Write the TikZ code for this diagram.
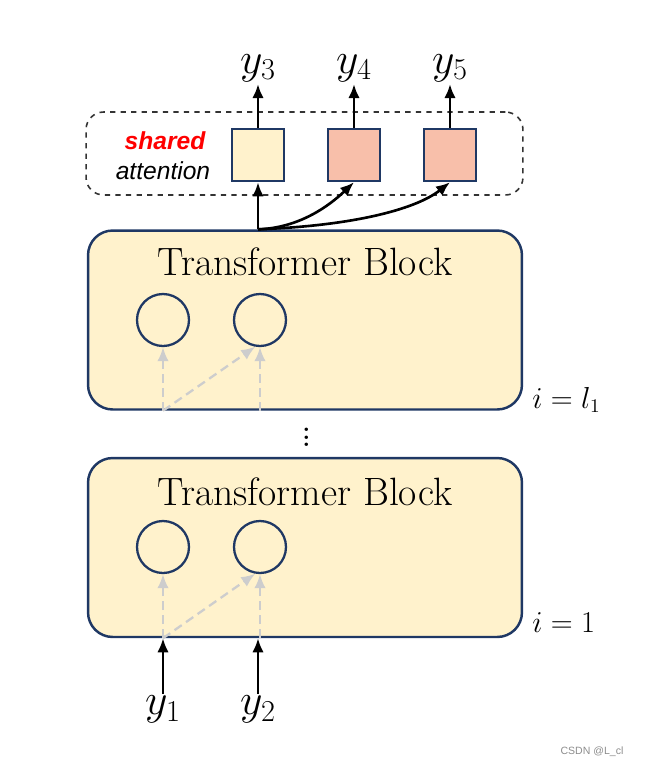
\documentclass[tikz,border=0pt]{standalone}
\usepackage{fontspec}
\usetikzlibrary{arrows.meta,positioning,calc}
\newfontfamily\notefont{Liberation Sans}
\definecolor{BlockCream}{RGB}{255,242,204}
\definecolor{BlockNavy}{RGB}{31,56,100}
\definecolor{HeadSalmon}{RGB}{248,191,170}
\definecolor{FlowGray}{RGB}{205,205,205}
\definecolor{SharedRed}{RGB}{255,0,0}

\begin{document}
\begin{tikzpicture}[x=0.02cm,y=-0.02cm,
    block/.style={draw=BlockNavy,line width=1.4pt,fill=BlockCream,rounded corners=14pt,minimum width=8.68cm,minimum height=3.58cm},
    title/.style={font=\fontsize{22.5}{26}\selectfont,inner sep=0pt},
    token/.style={circle,draw=BlockNavy,line width=1.3pt,minimum size=1.04cm,inner sep=0pt},
    head/.style={draw=BlockNavy,line width=1.4pt,minimum size=1.04cm,inner sep=0pt},
    var/.style={font=\fontsize{27}{29}\selectfont,inner sep=1pt},
    layer/.style={font=\fontsize{16}{18}\selectfont,anchor=west,inner sep=0pt},
    flow/.style={-{Latex[length=8pt,width=6.5pt]},line width=1.5pt},
    ghost/.style={-{Latex[length=8pt,width=6.5pt]},FlowGray,dashed,dash pattern=on 5pt off 3pt,line width=1.3pt}
  ]
    \useasboundingbox (0,0) rectangle (648,769);

    % shared attention heads
    \node[draw=black!80,dashed,line width=0.9pt,rounded corners=10pt,minimum width=8.74cm,minimum height=1.66cm] (shared) at (304.5,153.5) {};
    \node[head,fill=BlockCream] (h3) at (258,155) {};
    \node[head,fill=HeadSalmon] (h4) at (354,155) {};
    \node[head,fill=HeadSalmon] (h5) at (450,155) {};
    \node[font=\notefont\bfseries\itshape\fontsize{14}{15}\selectfont,text=SharedRed] (sharedlbl) at (165,141) {shared};
    \node[font=\notefont\itshape\fontsize{14}{15}\selectfont] (attnlbl) at (163,171) {attention};

    \node[var,anchor=south] (y3) at (258,84) {$y_3$};
    \node[var,anchor=south] (y4) at (354,84) {$y_4$};
    \node[var,anchor=south] (y5) at (450,84) {$y_5$};

    % layer l_1
    \node[block] (upper) at (305,320) {};
    \node[title] (uppertitle) at (305,262) {Transformer Block};
    \node[token] (u1) at (163,320) {};
    \node[token] (u2) at (260,320) {};
    \node[layer] (upperidx) at (532,400) {$i = l_1$};

    \node[font=\fontsize{24}{26}\selectfont,inner sep=0pt] (dots) at (307,432) {$\vdots$};

    % layer 1
    \node[block] (lower) at (305,547.5) {};
    \node[title] (lowertitle) at (305,492) {Transformer Block};
    \node[token] (l1) at (163,547) {};
    \node[token] (l2) at (260,547) {};
    \node[layer] (loweridx) at (532,623) {$i = 1$};

    \node[var,anchor=north] (y1) at (163,694) {$y_1$};
    \node[var,anchor=north] (y2) at (258,694) {$y_2$};

    % connectors
    \draw[flow] (y1.north) -- (y1.north |- lower.south);
    \draw[flow] (y2.north) -- (y2.north |- lower.south);
    \draw[ghost] (l1.south |- lower.south) -- (l1.south);
    \draw[ghost] (l2.south |- lower.south) -- (l2.south);
    \draw[ghost] (l1.south |- lower.south) -- (l2.260);
    \draw[ghost] (u1.south |- upper.south) -- (u1.south);
    \draw[ghost] (u2.south |- upper.south) -- (u2.south);
    \draw[ghost] (u1.south |- upper.south) -- (u2.260);

    \coordinate (fork) at (h3.south |- upper.north);
    \draw[flow] (fork) -- (h3.south);
    \draw[flow] (fork) .. controls (300,228) and (330,205) .. (h4.south);
    \draw[flow] (fork) .. controls (350,226) and (415,210) .. (h5.south);
    \draw[flow] (h3.north) -- (y3.south);
    \draw[flow] (h4.north) -- (y4.south);
    \draw[flow] (h5.north) -- (y5.south);

    \node[font=\notefont\fontsize{6}{7}\selectfont,text=black!45] (mark) at (592,752) {CSDN @L\_cl};
  \end{tikzpicture}
\end{document}
